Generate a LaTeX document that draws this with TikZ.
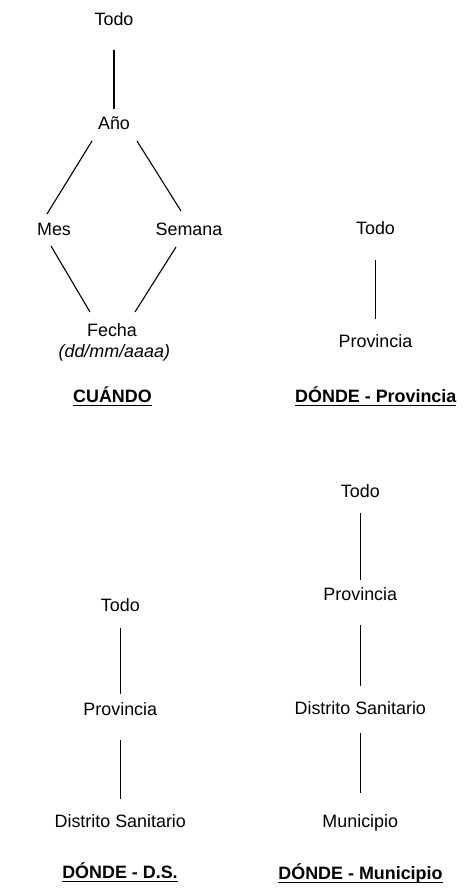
\documentclass[tikz,border=0pt]{standalone}
\usepackage{fontspec}
\setmainfont{Liberation Sans}
\usetikzlibrary{calc}
\tikzset{
  lbl/.style={inner sep=0pt, outer sep=0pt, text height=12.5pt, text depth=0pt,
    font=\fontsize{17.9}{21}\selectfont, text=black},
  ttl/.style={lbl, font=\fontsize{17.9}{21}\selectfont\bfseries},
  conn/.style={draw=black, line width=1.1pt},
  uline/.style={draw=black, line width=1.2pt}
}
\begin{document}
\begin{tikzpicture}[x=1pt,y=-1pt]
\useasboundingbox (0,0) rectangle (470,893);
% CUANDO
\node[lbl] (t1) at (114,19) {Todo};
\node[lbl] (ano) at (114,123.5) {Año};
\node[lbl] (mes) at (54,229) {Mes};
\node[lbl] (sem) at (189,229) {Semana};
\node[lbl] (fecha) at (112,330) {Fecha};
\node[lbl] (fmt) at (114.3,351.5) {\itshape (dd/mm/aaaa)};
\node[ttl] (cuando) at (112.5,396) {CUÁNDO};
\draw[conn] ($(t1)+(0,31)$) -- ($(ano)+(0,-14.5)$);
\draw[conn] ($(ano)+(-22,17.5)$) -- ($(mes)+(-7,-15)$);
\draw[conn] ($(ano)+(23,17.5)$) -- ($(sem)+(-8,-18)$);
\draw[conn] ($(mes)+(-3,17)$) -- ($(fecha)+(-22,-18)$);
\draw[conn] ($(sem)+(-13,18)$) -- ($(fecha)+(23,-18)$);
\draw[uline] ($(cuando.base west)+(0,3)$) -- ($(cuando.base east)+(0,3)$);
% DONDE - Provincia
\node[lbl] (tP) at (375.5,228) {Todo};
\node[lbl] (pP) at (375.5,341.7) {Provincia};
\node[ttl] (titP) at (375.8,396.5) {DÓNDE - Provincia};
\draw[conn] ($(tP)+(0,32)$) -- ($(pP)+(0,-22.7)$);
\draw[uline] ($(titP.base west)+(0,3)$) -- ($(titP.base east)+(0,3)$);
% DONDE - D.S.
\node[lbl] (tD) at (120.3,605.5) {Todo};
\node[lbl] (pD) at (120.3,709) {Provincia};
\node[lbl] (dD) at (120.3,821) {Distrito Sanitario};
\node[ttl] (titD) at (120,872) {DÓNDE - D.S.};
\draw[conn] ($(tD)+(0,22.2)$) -- ($(pD)+(0,-14.7)$);
\draw[conn] ($(pD)+(0,31)$) -- ($(dD)+(0,-22)$);
\draw[uline] ($(titD.base west)+(0,3)$) -- ($(titD.base east)+(0,3)$);
% DONDE - Municipio
\node[lbl] (tM) at (360.3,491.5) {Todo};
\node[lbl] (pM) at (360.3,594.7) {Provincia};
\node[lbl] (dM) at (360.3,708) {Distrito Sanitario};
\node[lbl] (mM) at (360.3,821.5) {Municipio};
\node[ttl] (titM) at (360.5,873.5) {DÓNDE - Municipio};
\draw[conn] ($(tM)+(0,21.5)$) -- ($(pM)+(0,-14.7)$);
\draw[conn] ($(pM)+(0,30.3)$) -- ($(dM)+(0,-22)$);
\draw[conn] ($(dM)+(0,25)$) -- ($(mM)+(0,-28.5)$);
\draw[uline] ($(titM.base west)+(0,3)$) -- ($(titM.base east)+(0,3)$);
\end{tikzpicture}
\end{document}
